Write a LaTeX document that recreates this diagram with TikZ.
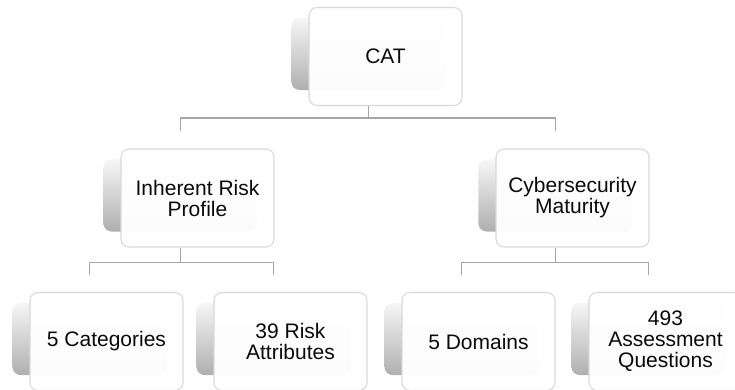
\documentclass[tikz,border=0pt]{standalone}
\usepackage{fontspec}
\setmainfont{Liberation Sans}
\usetikzlibrary{calc}
\pgfdeclarelayer{background}
\pgfsetlayers{background,main}
\definecolor{boxline}{HTML}{D9D9D9}
\definecolor{connline}{HTML}{A6A6A6}
\definecolor{tabtop}{HTML}{F6F6F6}
\definecolor{tabbottom}{HTML}{AFAFAF}
\definecolor{txt}{HTML}{0A0A0A}
\tikzset{
  card/.style={draw=boxline, line width=0.8pt, fill=white, fill opacity=0.97,
    text opacity=1, rounded corners=6pt, minimum width=114.75pt,
    minimum height=73.5pt, inner sep=0pt, align=center, text=txt,
    font=\fontsize{15.75pt}{15.75pt}\selectfont},
  tab/.style={rounded corners=6pt, top color=tabtop, bottom color=tabbottom},
  conn/.style={draw=connline, line width=1.3pt}
}
% gray tab peeking out to the left of a card
\newcommand\cardtab[1]{%
  \begin{pgfonlayer}{background}
    \shade[tab] ($(#1.north west)+(-17,11)$) rectangle ($(#1.south east)+(-17,-16)$);
  \end{pgfonlayer}}
\begin{document}
\begin{tikzpicture}[x=0.75pt,y=-0.75pt]
  \useasboundingbox (0,0) rectangle (735,389);
  \clip (0,0) rectangle (735,389);

  % cards
  \node[card] (cat) at (385.5,56.5) {CAT};
  \node[card] (irp) at (197.5,198) {Inherent Risk\\Profile};
  \node[card] (cm)  at (572.5,198) {Cybersecurity\\Maturity};
  \node[card] (cats) at (106.5,341.5) {5 Categories};
  \node[card] (attr) at (290.5,341.5) {39 Risk\\Attributes};
  \node[card] (dom)  at (478.5,341.5) {5 Domains};
  \node[card] (ques) at (665.5,341.5) {493\\Assessment\\Questions};

  \cardtab{cat}
  \cardtab{irp}
  \cardtab{cm}
  \cardtab{cats}
  \cardtab{attr}
  \cardtab{dom}
  \cardtab{ques}

  % connectors
  \draw[conn] ($(cat.south)+(-17,0)$) -- ++(0,12) coordinate (j0);
  \draw[conn] (j0) -| ($(irp.north)+(-17,-17)$);
  \draw[conn] (j0) -| ($(cm.north)+(-17,-17)$);

  \draw[conn] ($(irp.south)+(-17,0)$) -- ++(0,15) coordinate (j1);
  \draw[conn] (j1) -| ($(cats.north)+(-17,-17)$);
  \draw[conn] (j1) -| ($(attr.north)+(-17,-17)$);

  \draw[conn] ($(cm.south)+(-17,0)$) -- ++(0,15) coordinate (j2);
  \draw[conn] (j2) -| ($(dom.north)+(-17,-17)$);
  \draw[conn] (j2) -| ($(ques.north)+(-17,-17)$);
\end{tikzpicture}
\end{document}
